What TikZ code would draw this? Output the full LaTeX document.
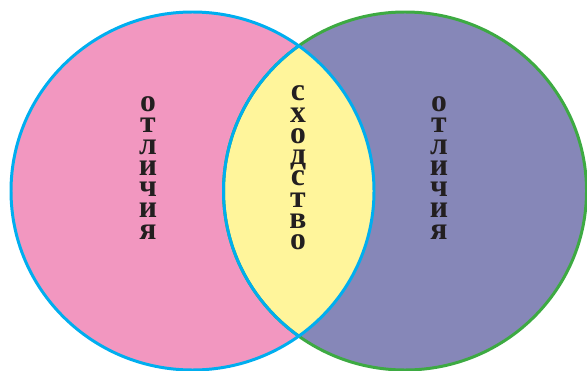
\documentclass[tikz,border=0pt]{standalone}
\usepackage{fontspec}
\setmainfont{Liberation Serif}

\definecolor{pinkfill}{HTML}{F297C0}
\definecolor{violetfill}{HTML}{8687B8}
\definecolor{lensfill}{HTML}{FFF59B}
\definecolor{blueline}{HTML}{00AEEF}
\definecolor{greenline}{HTML}{3DAA42}
\definecolor{inkdark}{HTML}{231F20}

\tikzset{
    rim/.style={line width=1.7pt},
    column/.style={align=center, inner sep=0pt, text=inkdark,
        font=\fontsize{18}{12.1}\selectfont\bfseries},
}

\begin{document}
\begin{tikzpicture}[x=0.02cm, y=-0.02cm]

    \useasboundingbox (0,0) rectangle (587,371);

    % Circles
    \fill[pinkfill] (192.5,191) ellipse [x radius=181.5, y radius=179];
    \fill[violetfill] (405,191) ellipse [x radius=181.5, y radius=179];
    \begin{scope}
        \clip (192.5,191) ellipse [x radius=181.5, y radius=179];
        \fill[lensfill] (405,191) ellipse [x radius=181.5, y radius=179];
    \end{scope}

    % Outlines
    \draw[rim, greenline] (405,191) ellipse [x radius=181.5, y radius=179];
    \draw[rim, blueline] (192.5,191) ellipse [x radius=181.5, y radius=179];
    \begin{scope}
        \clip (192.5,191) ellipse [x radius=181.5, y radius=179];
        \draw[rim, blueline] (405,191) ellipse [x radius=181.5, y radius=179];
    \end{scope}

    % Words, one letter under the other
    \node[column] (leftword) at (148,168) {о\\т\\л\\и\\ч\\и\\я};
    \node[column] (middleword) at (298,168) {с\\х\\о\\д\\с\\т\\в\\о};
    \node[column] (rightword) at (439,168) {о\\т\\л\\и\\ч\\и\\я};

\end{tikzpicture}
\end{document}
